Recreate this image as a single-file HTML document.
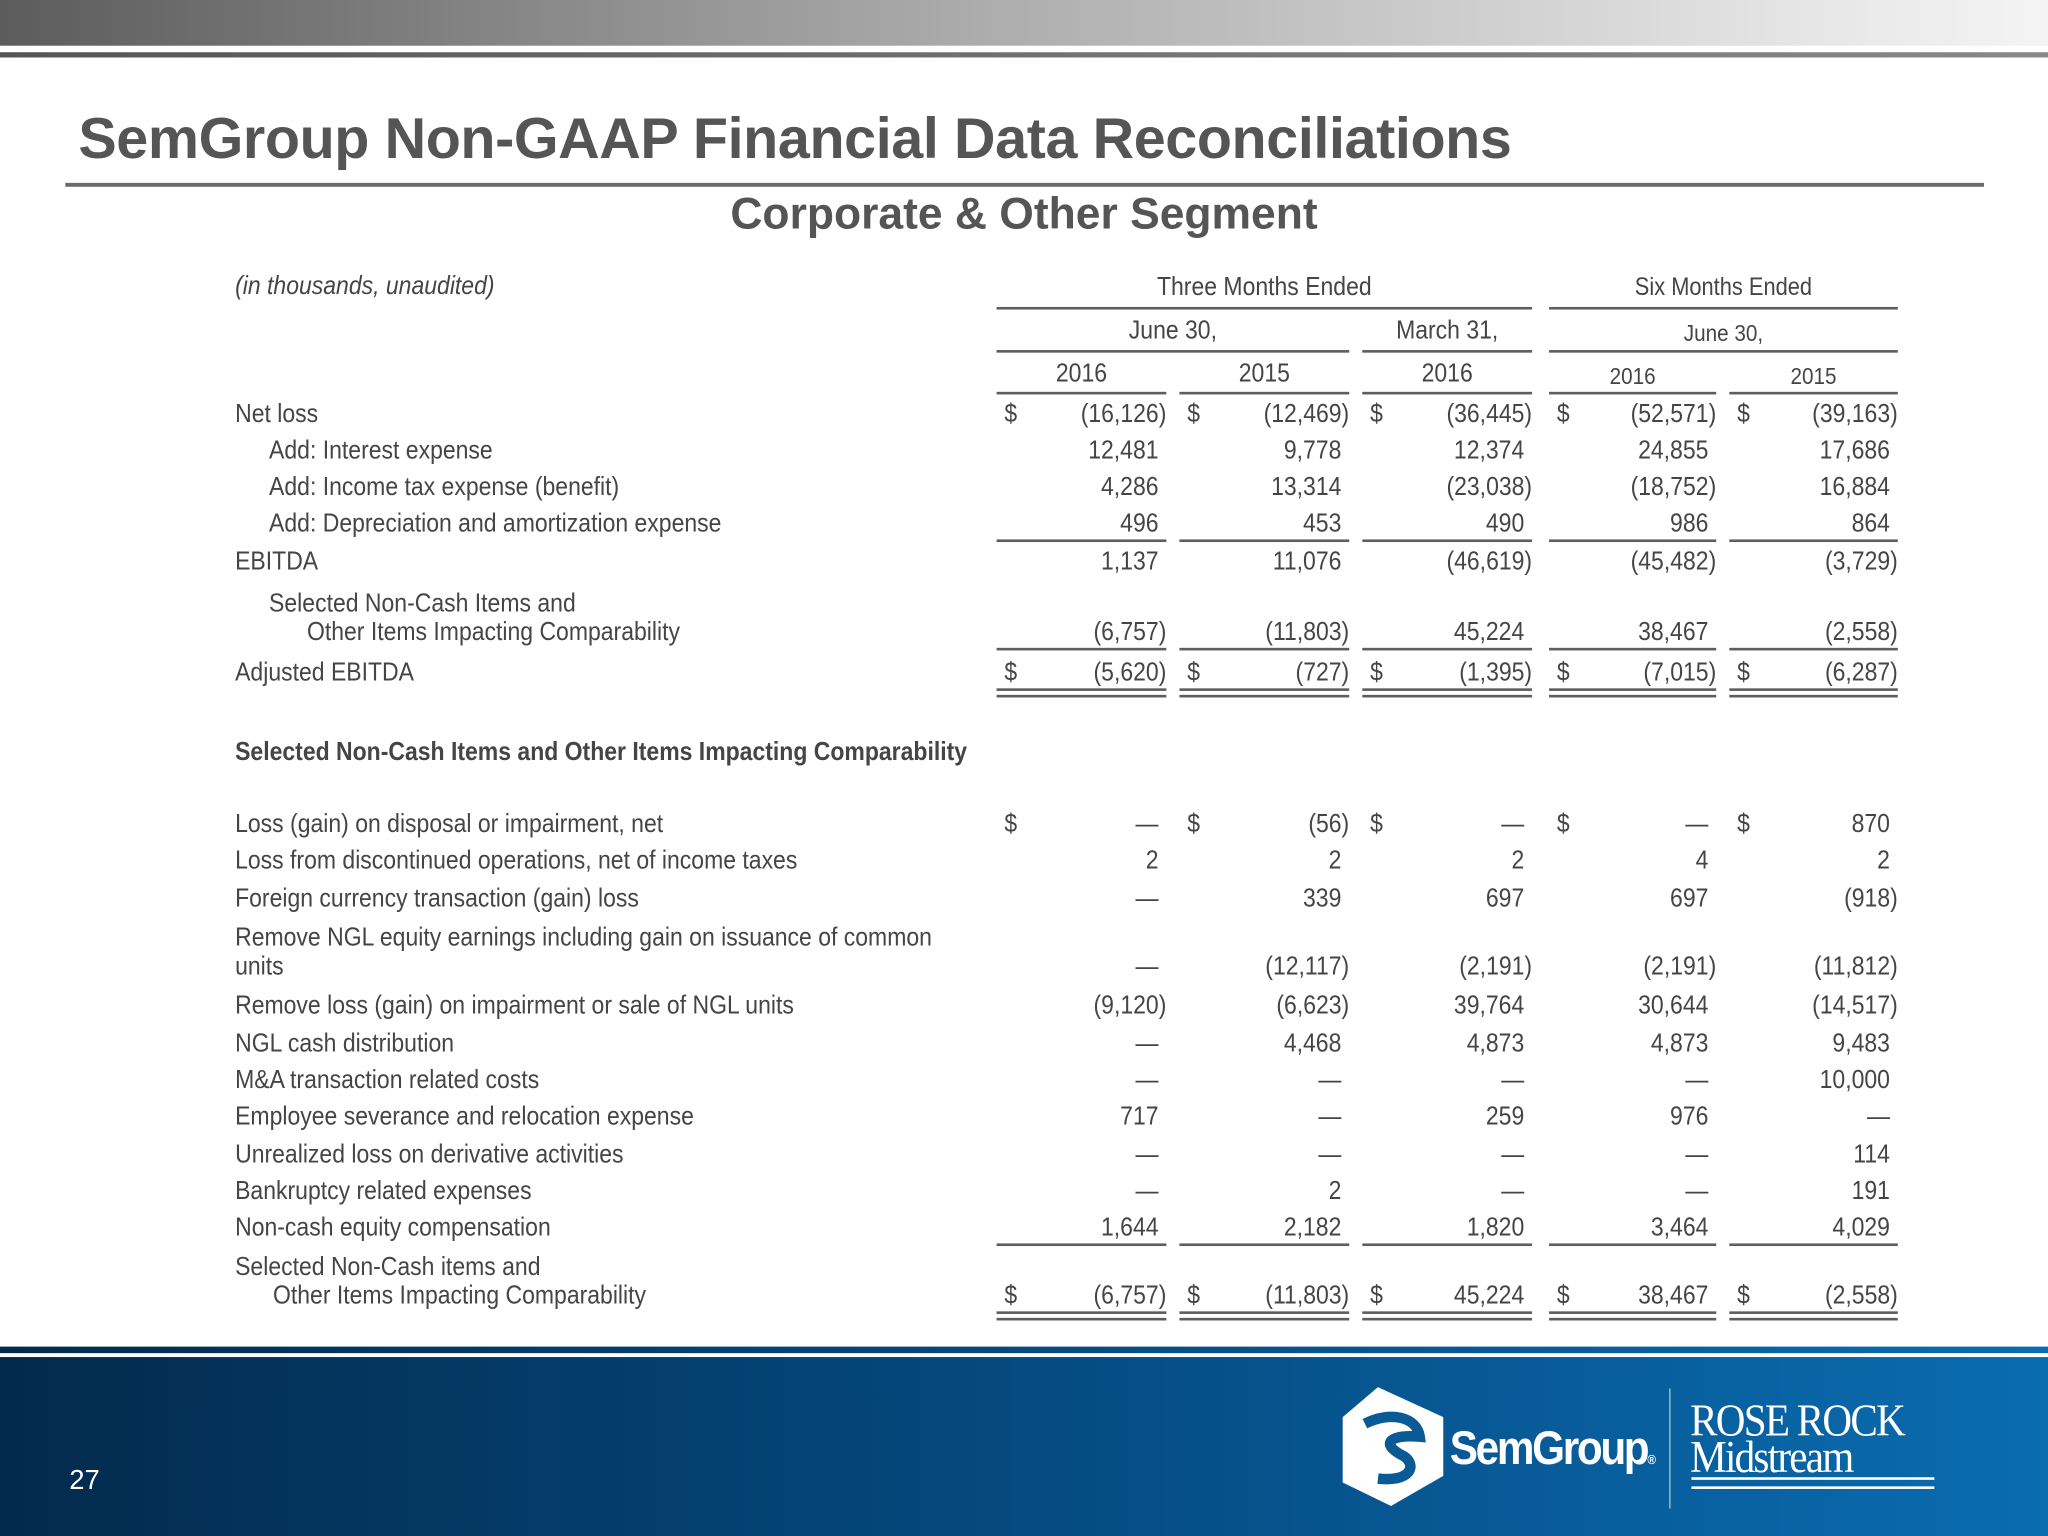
<!DOCTYPE html>
<html><head><meta charset="utf-8">
<style>
html,body{margin:0;padding:0;width:2048px;height:1536px;overflow:hidden;background:#fff}
#s{position:absolute;left:0;top:0;width:1568px;height:1176px;transform:scale(1.306122);transform-origin:0 0;font-family:"Liberation Sans",Arial,sans-serif;color:#454545}
.a{position:absolute;white-space:nowrap}
.t{font-size:20px;line-height:24px;transform:scaleX(0.88);transform-origin:0 50%}
.r{transform-origin:100% 50%}
.c{transform-origin:50% 50%}
.ln{position:absolute;height:2px;background:#5e5e5e}
</style></head><body>
<div id="s">
<div class="a" style="left:0;top:0;width:1568px;height:35px;background:linear-gradient(90deg,#5c5c5c,#a8a8a8 45%,#e8e8e8 90%,#f4f4f4)"></div>
<div class="a" style="left:0;top:40px;width:1568px;height:4px;background:linear-gradient(90deg,#555,#777 60%,#888)"></div>
<div class="a" style="left:60px;top:82px;font-weight:bold;font-size:44px;color:#555;letter-spacing:-0.3px">SemGroup Non-GAAP Financial Data Reconciliations</div>
<div class="a" style="left:50px;top:140px;width:1469px;height:3px;background:#6a6a6a"></div>
<div class="a" style="left:0;width:1568px;text-align:center;top:145px;font-weight:bold;font-size:34px;color:#555">Corporate &amp; Other Segment</div>

<div class="a t" style="left:180px;top:207px;font-style:italic">(in thousands, unaudited)</div>
<div class="a t c" style="left:763px;width:410px;text-align:center;top:208px">Three Months Ended</div>
<div class="a t c" style="left:1186px;width:267px;text-align:center;top:209px;font-size:19px">Six Months Ended</div>
<div class="ln" style="left:763px;top:235px;width:410px"></div>
<div class="ln" style="left:1186px;top:235px;width:267px"></div>
<div class="a t c" style="left:763px;width:270px;text-align:center;top:241px">June 30,</div>
<div class="a t c" style="left:1043px;width:130px;text-align:center;top:241px">March 31,</div>
<div class="a t c" style="left:1186px;width:267px;text-align:center;top:243px;font-size:18px">June 30,</div>
<div class="ln" style="left:763px;top:268px;width:270px"></div>
<div class="ln" style="left:1043px;top:268px;width:130px"></div>
<div class="ln" style="left:1186px;top:268px;width:267px"></div>

<div class="a" style="left:0;top:1031px;width:1568px;height:145px;background:linear-gradient(90deg,#032a4c,#054a80 50%,#0a6cb0)"></div>
<div class="a" style="left:0;top:1036px;width:1568px;height:3px;background:#fff"></div>
<div class="a" style="left:53px;top:1122px;color:#fff;font-size:21px">27</div>
<svg class="a" style="left:1025px;top:1060px" width="85" height="95" viewBox="0 0 85 95"><polygon points="30,2 80,25 80,70 40,93 3,75 3,25" fill="#fff"/><path d="M20,30 C40,20 60,25 62,40 C40,38 30,45 50,55 C60,62 55,75 30,72" stroke="#0a5a96" stroke-width="8" fill="none"/></svg>
<div class="a" style="left:1110px;top:1088px;color:#fff;font-weight:bold;font-size:36px;letter-spacing:-2px;transform:scaleX(0.9);transform-origin:0 50%">SemGroup<span style="font-size:10px">®</span></div>
<div class="a" style="left:1278px;top:1063px;width:1px;height:92px;background:#9cc"></div>
<div class="a" style="left:1294px;top:1074px;color:#fff;font-family:'Liberation Serif',serif;font-size:35px;line-height:28px;letter-spacing:-1.5px;transform:scaleX(0.9);transform-origin:0 50%">ROSE ROCK<br>Midstream</div>
<div class="a" style="left:1295px;top:1131px;width:186px;height:5px;border-top:2px solid #fff;border-bottom:2px solid #fff"></div>
</div>
<script>
const yearLabels=["2016","2015","2016","2016","2015"];
const rows=[
["Net loss",0,317,["(16,126)","(12,469)","(36,445)","(52,571)","(39,163)"],1,0],
["Add: Interest expense",1,345,["12,481","9,778","12,374","24,855","17,686"],0,0],
["Add: Income tax expense (benefit)",1,373,["4,286","13,314","(23,038)","(18,752)","16,884"],0,0],
["Add: Depreciation and amortization expense",1,401,["496","453","490","986","864"],0,1],
["EBITDA",0,430,["1,137","11,076","(46,619)","(45,482)","(3,729)"],0,0],
["Selected Non-Cash Items and|Other Items Impacting Comparability",2,484,["(6,757)","(11,803)","45,224","38,467","(2,558)"],0,1],
["Adjusted EBITDA",0,515,["(5,620)","(727)","(1,395)","(7,015)","(6,287)"],1,2],
["Loss (gain) on disposal or impairment, net",0,631,["—","(56)","—","—","870"],1,0],
["Loss from discontinued operations, net of income taxes",0,659,["2","2","2","4","2"],0,0],
["Foreign currency transaction (gain) loss",0,688,["—","339","697","697","(918)"],0,0],
["Remove NGL equity earnings including gain on issuance of common|units",3,740,["—","(12,117)","(2,191)","(2,191)","(11,812)"],0,0],
["Remove loss (gain) on impairment or sale of NGL units",0,770,["(9,120)","(6,623)","39,764","30,644","(14,517)"],0,0],
["NGL cash distribution",0,799,["—","4,468","4,873","4,873","9,483"],0,0],
["M&A transaction related costs",0,827,["—","—","—","—","10,000"],0,0],
["Employee severance and relocation expense",0,855,["717","—","259","976","—"],0,0],
["Unrealized loss on derivative activities",0,884,["—","—","—","—","114"],0,0],
["Bankruptcy related expenses",0,912,["—","2","—","—","191"],0,0],
["Non-cash equity compensation",0,940,["1,644","2,182","1,820","3,464","4,029"],0,1],
["Selected Non-Cash items and|Other Items Impacting Comparability",4,992,["(6,757)","(11,803)","45,224","38,467","(2,558)"],1,2]
];
const colL=[763,903,1043,1186,1324], colR=[893,1033,1173,1314,1453];
const S=document.getElementById('s');
function mk(cls,st,txt){const d=document.createElement('div');d.className=cls;d.style.cssText=st;if(txt!==undefined)d.textContent=txt;S.appendChild(d);return d;}
function rule(x,y,w){const d=mk('ln','left:'+x+'px;top:'+y+'px;width:'+w+'px');

}
yearLabels.forEach((yl,i)=>{const d=mk('a t c','left:'+colL[i]+'px;width:'+(colR[i]-colL[i])+'px;text-align:center;top:274px;'+(i>2?'font-size:18px;top:276px':''),yl);


rule(colL[i],300,colR[i]-colL[i]);});
const h=mk('a t','left:180px;top:564px;font-weight:bold','Selected Non-Cash Items and Other Items Impacting Comparability');


rows.forEach(r=>{
 const [lab,ind,y,vals,dol,ul]=r; const parts=lab.split('|');
 if(parts.length===1){const d=mk('a t','left:'+(ind?206:180)+'px;top:'+(y-12)+'px',parts[0]);
  
  }
 else{const x1=ind===2?206:180, x2=ind===2?235:(ind===4?209:180);
  const d1=mk('a t','left:'+x1+'px;top:'+(y-34)+'px',parts[0]);
  
  
  const d2=mk('a t','left:'+x2+'px;top:'+(y-12)+'px',parts[1]);
  
  }
 vals.forEach((v,i)=>{
  const par=v.charAt(0)==='(';
  const d=mk('a t r','left:'+colL[i]+'px;width:'+(colR[i]-colL[i]-(par?0:6))+'px;text-align:right;top:'+(y-12)+'px',v);
  
  
  if(dol){const s=mk('a t','left:'+(colL[i]+6)+'px;top:'+(y-12)+'px','$');
   
   }
  if(ul===1)rule(colL[i],y+12,colR[i]-colL[i]);
  if(ul===2){rule(colL[i],y+12,colR[i]-colL[i]);rule(colL[i],y+17,colR[i]-colL[i]);}
 });
});
</script>
</body></html>
